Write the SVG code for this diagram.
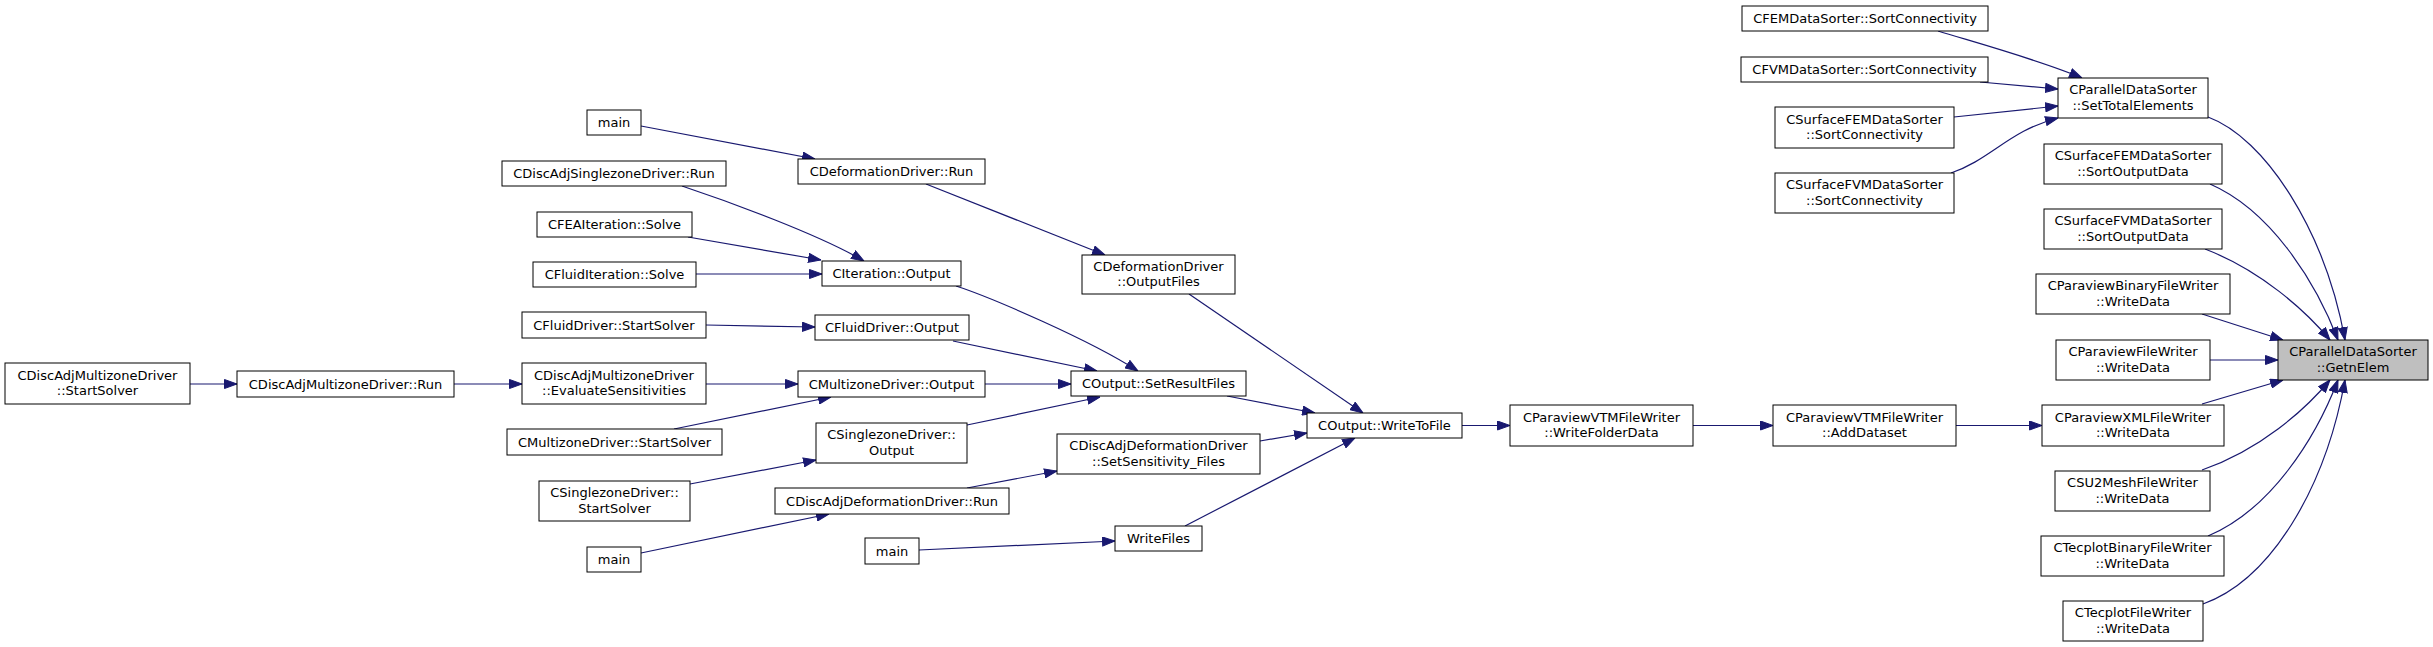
<svg xmlns="http://www.w3.org/2000/svg" width="2433" height="647" viewBox="0 0 2433 647">
<style>
.n rect{fill:#ffffff;stroke:#000000;stroke-width:1}
.n text{font-family:"DejaVu Sans","Liberation Sans",sans-serif;font-size:13px;fill:#000000;text-anchor:middle}
.root rect{fill:#bfbfbf}
.e path{fill:none;stroke:#191970;stroke-width:1.2;marker-end:url(#ah)}
</style>
<defs>
<marker id="ah" markerWidth="13" markerHeight="10" refX="13" refY="5" orient="auto" markerUnits="userSpaceOnUse">
<path d="M0.5,0.5 L13,5 L0.5,9.5 z" fill="#191970" stroke="#191970" stroke-width="1"/>
</marker>
</defs>
<rect width="2433" height="647" fill="#ffffff"/>
<g id="edges" class="e">
<path d="M190,384 L237,384"/>
<path d="M454,384 L522,384"/>
<path d="M706,384 L798,384"/>
<path d="M674,429 L831,397"/>
<path d="M641,126 L815,159"/>
<path d="M682,186 C730,202 820,235 864,261"/>
<path d="M688,237 L821,260"/>
<path d="M696,274 L822,274"/>
<path d="M706,325 L815,327"/>
<path d="M690,484 L816,460"/>
<path d="M641,553 L829,514"/>
<path d="M926,184 L1105,255"/>
<path d="M956,286 C990,297 1090,340 1138,371"/>
<path d="M953,341 L1097,371"/>
<path d="M985,384 L1071,384"/>
<path d="M967,425 L1100,397"/>
<path d="M967,488 L1057,471"/>
<path d="M919,550 L1115,541"/>
<path d="M1189,294 L1363,413"/>
<path d="M1227,396 L1315,413"/>
<path d="M1260,441 L1307,433"/>
<path d="M1185,526 L1355,438"/>
<path d="M1462,425.5 L1510,425.5"/>
<path d="M1693,425.5 L1773,425.5"/>
<path d="M1956,425.5 L2042,425.5"/>
<path d="M1938,31 C1970,41 2040,60 2082,78"/>
<path d="M1980,82 L2058,89"/>
<path d="M1954,117 L2058,106"/>
<path d="M1951,173 C1990,160 2010,130 2058,118"/>
<path d="M2208,117 C2265,138 2325,230 2345,340"/>
<path d="M2210,184 C2270,210 2315,280 2338,340"/>
<path d="M2205,249 C2260,270 2305,310 2330,340"/>
<path d="M2202,314 L2283,340"/>
<path d="M2210,360 L2278,360"/>
<path d="M2202,404 L2283,380"/>
<path d="M2202,470 C2260,450 2305,410 2330,380"/>
<path d="M2208,536 C2270,510 2315,440 2338,380"/>
<path d="M2203,604 C2270,580 2325,490 2345,380"/>
</g>
<g id="n_start" class="n"><rect x="5" y="363" width="185" height="41"/><text x="97.5" y="379.5">CDiscAdjMultizoneDriver</text><text x="97.5" y="395">::StartSolver</text></g>
<g id="n_dmrun" class="n"><rect x="237" y="371" width="217" height="26"/><text x="345.5" y="388.5">CDiscAdjMultizoneDriver::Run</text></g>
<g id="n_main1" class="n"><rect x="587" y="110" width="54" height="25"/><text x="614" y="127">main</text></g>
<g id="n_dsrun" class="n"><rect x="502" y="161" width="224" height="25"/><text x="614" y="178">CDiscAdjSinglezoneDriver::Run</text></g>
<g id="n_fea" class="n"><rect x="537" y="212" width="155" height="25"/><text x="614.5" y="229">CFEAIteration::Solve</text></g>
<g id="n_fluidit" class="n"><rect x="533" y="262" width="163" height="25"/><text x="614.5" y="279">CFluidIteration::Solve</text></g>
<g id="n_fdstart" class="n"><rect x="522" y="312" width="184" height="26"/><text x="614" y="329.5">CFluidDriver::StartSolver</text></g>
<g id="n_eval" class="n"><rect x="522" y="363" width="184" height="41"/><text x="614" y="379.5">CDiscAdjMultizoneDriver</text><text x="614" y="395">::EvaluateSensitivities</text></g>
<g id="n_mzstart" class="n"><rect x="507" y="429" width="215" height="26"/><text x="614.5" y="446.5">CMultizoneDriver::StartSolver</text></g>
<g id="n_szstart" class="n"><rect x="539" y="481" width="151" height="40"/><text x="614.5" y="497">CSinglezoneDriver::</text><text x="614.5" y="512.5">StartSolver</text></g>
<g id="n_main2" class="n"><rect x="587" y="547" width="54" height="25"/><text x="614" y="564">main</text></g>
<g id="n_defrun" class="n"><rect x="798" y="159" width="187" height="25"/><text x="891.5" y="176">CDeformationDriver::Run</text></g>
<g id="n_itout" class="n"><rect x="822" y="261" width="139" height="25"/><text x="891.5" y="278">CIteration::Output</text></g>
<g id="n_fdout" class="n"><rect x="815" y="315" width="154" height="25"/><text x="892" y="332">CFluidDriver::Output</text></g>
<g id="n_mzout" class="n"><rect x="798" y="371" width="187" height="26"/><text x="891.5" y="388.5">CMultizoneDriver::Output</text></g>
<g id="n_szout" class="n"><rect x="816" y="423" width="151" height="40"/><text x="891.5" y="439">CSinglezoneDriver::</text><text x="891.5" y="454.5">Output</text></g>
<g id="n_dadrun" class="n"><rect x="775" y="488" width="234" height="26"/><text x="892" y="505.5">CDiscAdjDeformationDriver::Run</text></g>
<g id="n_main3" class="n"><rect x="865" y="538" width="54" height="26"/><text x="892" y="555.5">main</text></g>
<g id="n_outfiles" class="n"><rect x="1082" y="255" width="153" height="39"/><text x="1158.5" y="270.5">CDeformationDriver</text><text x="1158.5" y="286">::OutputFiles</text></g>
<g id="n_setres" class="n"><rect x="1071" y="371" width="175" height="25"/><text x="1158.5" y="388">COutput::SetResultFiles</text></g>
<g id="n_setsens" class="n"><rect x="1057" y="434" width="203" height="40"/><text x="1158.5" y="450">CDiscAdjDeformationDriver</text><text x="1158.5" y="465.5">::SetSensitivity_Files</text></g>
<g id="n_writefiles" class="n"><rect x="1115" y="526" width="87" height="25"/><text x="1158.5" y="543">WriteFiles</text></g>
<g id="n_wtf" class="n"><rect x="1307" y="413" width="155" height="25"/><text x="1384.5" y="430">COutput::WriteToFile</text></g>
<g id="n_wfd" class="n"><rect x="1510" y="405" width="183" height="41"/><text x="1601.5" y="421.5">CParaviewVTMFileWriter</text><text x="1601.5" y="437">::WriteFolderData</text></g>
<g id="n_adds" class="n"><rect x="1773" y="405" width="183" height="41"/><text x="1864.5" y="421.5">CParaviewVTMFileWriter</text><text x="1864.5" y="437">::AddDataset</text></g>
<g id="n_fem" class="n"><rect x="1742" y="6" width="246" height="25"/><text x="1865" y="23">CFEMDataSorter::SortConnectivity</text></g>
<g id="n_fvm" class="n"><rect x="1741" y="57" width="247" height="25"/><text x="1864.5" y="74">CFVMDataSorter::SortConnectivity</text></g>
<g id="n_sfem" class="n"><rect x="1775" y="107" width="179" height="41"/><text x="1864.5" y="123.5">CSurfaceFEMDataSorter</text><text x="1864.5" y="139">::SortConnectivity</text></g>
<g id="n_sfvm" class="n"><rect x="1775" y="173" width="179" height="40"/><text x="1864.5" y="189">CSurfaceFVMDataSorter</text><text x="1864.5" y="204.5">::SortConnectivity</text></g>
<g id="n_ste" class="n"><rect x="2058" y="78" width="150" height="40"/><text x="2133" y="94">CParallelDataSorter</text><text x="2133" y="109.5">::SetTotalElements</text></g>
<g id="n_sfemo" class="n"><rect x="2044" y="144" width="178" height="40"/><text x="2133" y="160">CSurfaceFEMDataSorter</text><text x="2133" y="175.5">::SortOutputData</text></g>
<g id="n_sfvmo" class="n"><rect x="2044" y="209" width="178" height="40"/><text x="2133" y="225">CSurfaceFVMDataSorter</text><text x="2133" y="240.5">::SortOutputData</text></g>
<g id="n_pvb" class="n"><rect x="2036" y="274" width="194" height="40"/><text x="2133" y="290">CParaviewBinaryFileWriter</text><text x="2133" y="305.5">::WriteData</text></g>
<g id="n_pvf" class="n"><rect x="2056" y="340" width="154" height="40"/><text x="2133" y="356">CParaviewFileWriter</text><text x="2133" y="371.5">::WriteData</text></g>
<g id="n_pvx" class="n"><rect x="2042" y="405" width="182" height="41"/><text x="2133" y="421.5">CParaviewXMLFileWriter</text><text x="2133" y="437">::WriteData</text></g>
<g id="n_su2" class="n"><rect x="2055" y="471" width="155" height="40"/><text x="2132.5" y="487">CSU2MeshFileWriter</text><text x="2132.5" y="502.5">::WriteData</text></g>
<g id="n_tpb" class="n"><rect x="2041" y="536" width="183" height="40"/><text x="2132.5" y="552">CTecplotBinaryFileWriter</text><text x="2132.5" y="567.5">::WriteData</text></g>
<g id="n_tpf" class="n"><rect x="2063" y="601" width="140" height="40"/><text x="2133" y="617">CTecplotFileWriter</text><text x="2133" y="632.5">::WriteData</text></g>
<g id="n_getn" class="n root"><rect x="2278" y="340" width="150" height="40"/><text x="2353" y="356">CParallelDataSorter</text><text x="2353" y="371.5">::GetnElem</text></g>
</svg>
